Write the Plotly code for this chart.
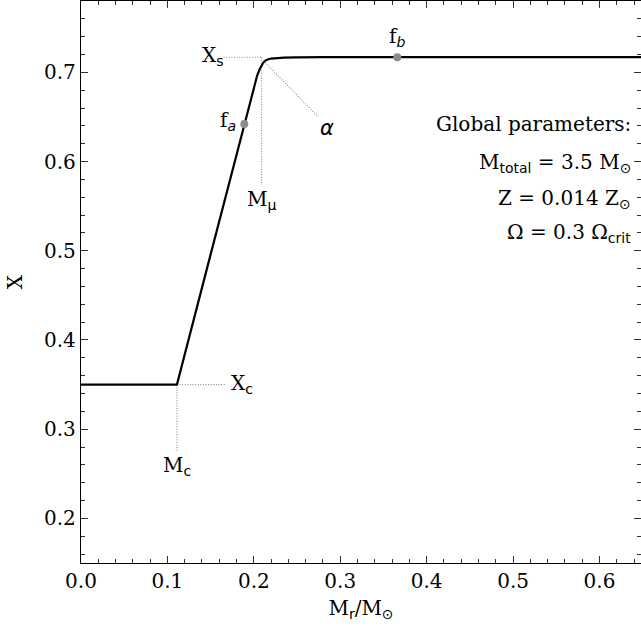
import plotly.graph_objects as go

# ---- data ----
mass = [0.0, 0.111, 0.150, 0.189, 0.200, 0.204, 0.207, 0.209, 0.211, 0.213, 0.216, 0.220, 0.226, 0.235, 0.250, 0.280, 0.650]
xh   = [0.350, 0.350, 0.496, 0.642, 0.683, 0.697, 0.704, 0.708, 0.711, 0.713, 0.7145, 0.7155, 0.7162, 0.7166, 0.7169, 0.717, 0.717]

M_c, X_c = 0.111, 0.350
M_mu, X_s = 0.209, 0.717
f_a = (0.189, 0.642)
f_b = (0.366, 0.717)
alpha_end = (0.2746, 0.650)

xticks = [0.0, 0.1, 0.2, 0.3, 0.4, 0.5, 0.6]
yticks = [0.2, 0.3, 0.4, 0.5, 0.6, 0.7]

SERIF = "DejaVu Serif"
SANS = "DejaVu Sans"
GREY = "#8c8c8c"
FS = 20

def sub(t, italic=False):
    st = f"font-family:{SANS}"
    if italic:
        st += ";font-style:italic"
    return f"<sub><span style=\"{st}\">{t}</span></sub>"

fig = go.Figure()

dot = dict(color=GREY, width=1.1, dash="1px,1.6px")
# guide lines
fig.add_trace(go.Scatter(x=[0.165, M_mu], y=[X_s, X_s], mode="lines", line=dot, hoverinfo="skip"))
fig.add_trace(go.Scatter(x=[M_mu, M_mu], y=[X_s, 0.574], mode="lines", line=dot, hoverinfo="skip"))
fig.add_trace(go.Scatter(x=[M_c, 0.167], y=[X_c, X_c], mode="lines", line=dot, hoverinfo="skip"))
fig.add_trace(go.Scatter(x=[M_c, M_c], y=[X_c, 0.276], mode="lines", line=dot, hoverinfo="skip"))
fig.add_trace(go.Scatter(x=[0.211, alpha_end[0]], y=[0.713, alpha_end[1]], mode="lines", line=dot, hoverinfo="skip"))

# main profile
fig.add_trace(go.Scatter(x=mass, y=xh, mode="lines", line=dict(color="black", width=2.2), hoverinfo="skip"))

# markers
fig.add_trace(go.Scatter(x=[f_a[0], f_b[0]], y=[f_a[1], f_b[1]], mode="markers",
                         marker=dict(color=GREY, size=8), hoverinfo="skip"))

ann_font = dict(family=SERIF, size=FS, color="black")
annotations = [
    dict(x=0.165, y=X_s, text="X" + sub("s"), xanchor="right", yanchor="middle", xshift=2, yshift=1),
    dict(x=M_mu, y=0.574, text="M" + sub("μ"), xanchor="center", yanchor="top", yshift=0),
    dict(x=0.167, y=X_c, text="X" + sub("c"), xanchor="left", yanchor="middle", xshift=4, yshift=1),
    dict(x=M_c, y=0.276, text="M" + sub("c"), xanchor="center", yanchor="top", yshift=0),
    dict(x=f_a[0], y=f_a[1], text="f" + sub("a", True), xanchor="right", yanchor="middle", xshift=-6, yshift=3),
    dict(x=f_b[0], y=f_b[1], text="f" + sub("b", True), xanchor="center", yanchor="bottom", yshift=5),
    dict(x=alpha_end[0] + 0.010, y=alpha_end[1] - 0.012, text="<i>α</i>", xanchor="center", yanchor="middle",
         font=dict(family=SANS, size=FS + 1, color="black")),
    dict(x=0.639, y=0.642, text="Global parameters:", xanchor="right", yanchor="middle"),
    dict(x=0.639, y=0.598, text="M" + sub("total") + " = 3.5 M" + sub("⊙"), xanchor="right", yanchor="middle"),
    dict(x=0.639, y=0.558, text="Z = 0.014 Z" + sub("⊙"), xanchor="right", yanchor="middle"),
    dict(x=0.639, y=0.520, text="Ω = 0.3 Ω" + sub("crit"), xanchor="right", yanchor="middle"),
]
for a in annotations:
    a.setdefault("font", ann_font)
    a.update(xref="x", yref="y", showarrow=False)

axis_common = dict(
    showline=True, linecolor="black", linewidth=1.3, mirror="allticks",
    ticks="inside", ticklen=7, tickwidth=1.2, tickcolor="#333333",
    showgrid=False, zeroline=False,
    tickfont=dict(family=SERIF, size=FS, color="black"),
)

fig.update_layout(
    width=641, height=633,
    margin=dict(l=81, r=0, t=1, b=70, autoexpand=False),
    paper_bgcolor="white", plot_bgcolor="white",
    showlegend=False,
    annotations=annotations,
    xaxis=dict(range=[0, 0.648], tickvals=xticks, ticktext=[f"{v:.1f}" for v in xticks],
               minor=dict(dtick=0.02, tick0=0, ticks="inside", ticklen=4, tickcolor="#333333", showgrid=False),
               title=dict(text="M" + sub("r") + "/M" + sub("⊙"), font=dict(family=SERIF, size=FS, color="black"), standoff=8),
               **axis_common),
    yaxis=dict(range=[0.15, 0.78], tickvals=yticks, ticktext=[f"{v:.1f}" for v in yticks],
               minor=dict(dtick=0.02, tick0=0.0, ticks="inside", ticklen=4, tickcolor="#333333", showgrid=False),
               title=dict(text="X", font=dict(family=SERIF, size=FS, color="black"), standoff=16),
               **axis_common),
)

fig.write_html("out.html", config={"displayModeBar": False},
               post_script="document.body.style.margin='0';document.body.style.overflow='hidden';")
